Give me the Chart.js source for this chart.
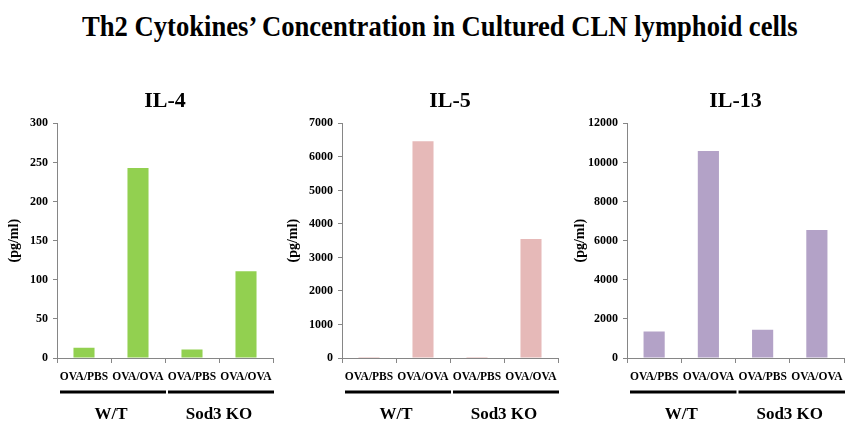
<!DOCTYPE html>
<html>
<head>
<meta charset="utf-8">
<script src="https://cdn.jsdelivr.net/npm/chart.js@4.4.1/dist/chart.umd.min.js"></script>
<style>
  body { margin: 0; background: #fff; }
  #wrap { position: relative; width: 863px; height: 426px; overflow: hidden; }
  #mainTitle {
    position: absolute; left: 82px; top: 12px; white-space: nowrap;
    font: bold 29px 'Liberation Serif', 'Times New Roman', serif; line-height: 29px;
    transform-origin: 0 0; color: #000;
  }
  canvas { position: absolute; top: 80px; }
</style>
</head>
<body>
<div id="wrap">
  <div id="mainTitle">Th2 Cytokines’ Concentration in Cultured CLN lymphoid cells</div>
  <canvas id="il4Chart" width="285" height="346" style="left:0px"></canvas>
  <canvas id="il5Chart" width="285" height="346" style="left:285px"></canvas>
  <canvas id="il13Chart" width="293" height="346" style="left:570px"></canvas>
</div>
<script>
const categories = ['OVA/PBS', 'OVA/OVA', 'OVA/PBS', 'OVA/OVA'];
const groups = ['W/T', 'Sod3 KO'];
const il4Values = [13, 243, 11, 111];
const il5Values = [30, 6470, 30, 3550];
const il13Values = [1360, 10590, 1450, 6550];
const il4Ticks = { max: 300, step: 50 };
const il5Ticks = { max: 7000, step: 1000 };
const il13Ticks = { max: 12000, step: 2000 };

// squeeze the headline to the width it has in the figure
const mt = document.getElementById('mainTitle');
mt.style.transform = 'scaleX(' + (716 / mt.offsetWidth) + ')';

Chart.defaults.font.family = "'Liberation Serif', 'Times New Roman', serif";
Chart.defaults.color = '#000';

const axisGrey = '#868686';

// black bars under each W/T / Sod3 KO group
const groupLines = {
    id: 'groupLines',
    afterDraw(chart) {
        const ctx = chart.ctx;
        const x2 = chart.scales.x2;
        const area = chart.chartArea;
        const w = (area.right - area.left) / groups.length;
        ctx.save();
        ctx.strokeStyle = '#000';
        ctx.lineWidth = 3;
        groups.forEach((g, i) => {
            ctx.beginPath();
            ctx.moveTo(area.left + i * w + 3, x2.top + 8);
            ctx.lineTo(area.left + (i + 1) * w + 1, x2.top + 8);
            ctx.stroke();
        });
        ctx.restore();
    }
};

function makeChart(id, title, values, color, ticks, yTitlePad, rightPad) {
    const ctx = document.getElementById(id).getContext('2d');
    return new Chart(ctx, {
        type: 'bar',
        data: {
            labels: categories,
            datasets: [{
                label: title,
                data: values,
                backgroundColor: color,
                categoryPercentage: 1,
                barPercentage: 0.39
            }]
        },
        options: {
            responsive: false,
            animation: false,
            layout: { padding: { left: 0, right: rightPad, top: 0, bottom: 0 } },
            plugins: {
                legend: { display: false },
                tooltip: { enabled: false },
                title: {
                    display: true,
                    text: title,
                    fullSize: false,
                    font: { size: 22, weight: 'bold' },
                    padding: { top: 8, bottom: 9 }
                }
            },
            scales: {
                y: {
                    min: 0,
                    max: ticks.max,
                    ticks: {
                        stepSize: ticks.step,
                        font: { size: 12, weight: 'bold' },
                        padding: 5,
                        format: { useGrouping: false }
                    },
                    grid: { drawOnChartArea: false, tickLength: 4, color: axisGrey },
                    border: { color: axisGrey },
                    title: {
                        display: true,
                        text: '(pg/ml)',
                        font: { size: 14, weight: 'bold' },
                        padding: { top: yTitlePad, bottom: 0 }
                    },
                    afterFit: s => { s.width = 57; }
                },
                x: {
                    ticks: { font: { size: 11.5, weight: 'bold' }, padding: 7, maxRotation: 0, autoSkip: false },
                    grid: { drawOnChartArea: false, tickLength: 5, color: axisGrey, offset: true },
                    border: { color: axisGrey },
                    afterFit: s => { s.height = 26; }
                },
                x2: {
                    type: 'category',
                    position: 'bottom',
                    labels: groups,
                    offset: true,
                    grid: { display: false },
                    border: { display: false },
                    ticks: { font: { size: 17, weight: 'bold' }, padding: 12 },
                    afterFit: s => { s.height = 42; }
                }
            }
        },
        plugins: [groupLines]
    });
}

makeChart('il4Chart', 'IL-4', il4Values, '#92D050', il4Ticks, 6, 12);
makeChart('il5Chart', 'IL-5', il5Values, '#E6B9B8', il5Ticks, 0, 12);
makeChart('il13Chart', 'IL-13', il13Values, '#B3A2C7', il13Ticks, 2, 19);
</script>
</body>
</html>
